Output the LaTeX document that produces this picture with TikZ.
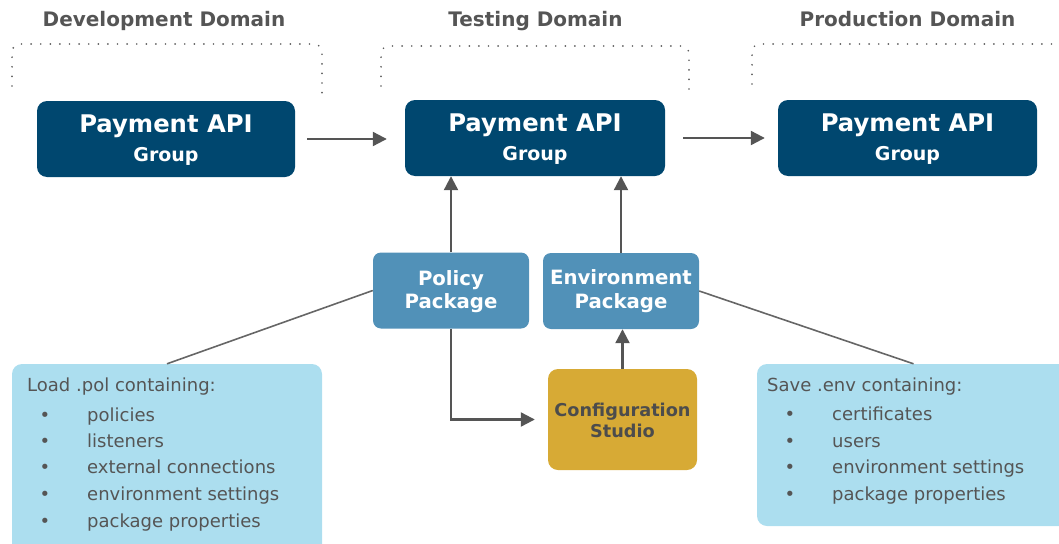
\documentclass[tikz,border=0pt]{standalone}
\usepackage{fontspec}
\setmainfont{DejaVu Sans}
\usetikzlibrary{arrows.meta,calc}
\definecolor{darkblue}{HTML}{00476F}
\definecolor{midblue}{HTML}{5191B8}
\definecolor{lightblue}{HTML}{ACDEEF}
\definecolor{goldbox}{HTML}{D7AA35}
\definecolor{txtgray}{HTML}{555555}
\definecolor{arrgray}{HTML}{555555}
\definecolor{dotgray}{HTML}{5E5E5E}
\tikzset{
  bigbox/.style={rectangle, rounded corners=10pt, fill=darkblue, draw=none, minimum width=258pt, minimum height=76pt, inner sep=0pt},
  pkgbox/.style={rectangle, rounded corners=8pt, fill=midblue, draw=none, minimum width=156pt, minimum height=76pt, inner sep=0pt},
  cfgbox/.style={rectangle, rounded corners=10pt, fill=goldbox, draw=none, minimum width=149pt, minimum height=101pt, inner sep=0pt},
  notebox/.style={rectangle, rounded corners=10pt, fill=lightblue, draw=none, inner sep=0pt},
  txt/.style={inner sep=0pt, anchor=base},
  titletxt/.style={txt, font=\bfseries\fontsize{20}{20}\selectfont, text=txtgray},
  bigtxt/.style={txt, font=\bfseries\fontsize{24.3}{24.3}\selectfont, text=white},
  subtxt/.style={txt, font=\bfseries\fontsize{19}{19}\selectfont, text=white},
  pkgtxt/.style={txt, font=\bfseries\fontsize{19.7}{19.7}\selectfont, text=white},
  cfgtxt/.style={txt, font=\bfseries\fontsize{17.7}{17.7}\selectfont, text=txtgray!90!black},
  listtxt/.style={inner sep=0pt, anchor=base west, font=\fontsize{18}{18}\selectfont, text=txtgray},
  bullettxt/.style={inner sep=0pt, anchor=base, font=\fontsize{18}{18}\selectfont, text=txtgray},
  arr/.style={draw=arrgray, line width=2.2pt, -{Triangle[length=14pt,width=14pt]}},
  thinline/.style={draw=arrgray!90, line width=1.6pt},
  dots/.style={draw=dotgray, line width=1.9pt, dash pattern=on 0pt off 9.6pt, line cap=round, rounded corners=8pt},
}
\begin{document}
\begin{tikzpicture}[x=1pt,y=-1pt]
\useasboundingbox (0,0) rectangle (1059,543);
\clip (0,0) rectangle (1059,543);

% domain titles
\node[titletxt] (tdev) at (164,27) {Development Domain};
\node[titletxt] (ttest) at (535.5,27) {Testing Domain};
\node[titletxt] (tprod) at (907.5,27) {Production Domain};

% dotted brackets
\draw[dots] (12,86) -- (12,44) -- (322,44) -- (322,94);
\draw[dots] (381,86) -- (381,46) -- (689,46) -- (689,95);
\draw[dots] (752,84) -- (752,44) -- (1066,44);

% main boxes
\node[bigbox] (dev) at (166,139) {};
\node[bigbox, minimum width=260pt] (test) at (535,138) {};
\node[bigbox, minimum width=259pt] (prod) at (907.5,138) {};

\node[bigtxt] (dev1) at (166,132) {Payment API};
\node[subtxt] (dev2) at (166,161) {Group};
\node[bigtxt] (test1) at (535,131) {Payment API};
\node[subtxt] (test2) at (535,160) {Group};
\node[bigtxt] (prod1) at (907.5,131) {Payment API};
\node[subtxt] (prod2) at (907.5,160) {Group};

% packages
\node[pkgbox] (policy) at (451,290.5) {};
\node[pkgbox] (env) at (621,291) {};
\node[pkgtxt] (pol1) at (451,285) {Policy};
\node[pkgtxt] (pol2) at (451,308) {Package};
\node[pkgtxt] (env1) at (621,284) {Environment};
\node[pkgtxt] (env2) at (621,308) {Package};

% configuration studio
\node[cfgbox] (config) at (622.5,419.5) {};
\node[cfgtxt] (cfg1) at (622.5,416) {Configuration};
\node[cfgtxt] (cfg2) at (622.5,437) {Studio};

% note boxes
\node[notebox, minimum width=310pt, minimum height=194pt] (load) at (167,461) {};
\node[notebox, minimum width=313pt, minimum height=162pt] (save) at (913.5,445) {};

\node[listtxt] (lh) at (27,391) {Load .pol containing:};
\node[bullettxt] (lb1) at (45,421) {•};
\node[bullettxt] (lb2) at (45,447) {•};
\node[bullettxt] (lb3) at (45,473.5) {•};
\node[bullettxt] (lb4) at (45,500) {•};
\node[bullettxt] (lb5) at (45,527) {•};
\node[listtxt] (li1) at (87,421) {policies};
\node[listtxt] (li2) at (87,447) {listeners};
\node[listtxt] (li3) at (87,473.5) {external connections};
\node[listtxt] (li4) at (87,500) {environment settings};
\node[listtxt] (li5) at (87,527) {package properties};

\node[listtxt] (sh) at (767,391) {Save .env containing:};
\node[bullettxt] (sb1) at (790,420) {•};
\node[bullettxt] (sb2) at (790,447) {•};
\node[bullettxt] (sb3) at (790,473.5) {•};
\node[bullettxt] (sb4) at (790,500) {•};
\node[listtxt] (si1) at (832,420) {certificates};
\node[listtxt] (si2) at (832,447) {users};
\node[listtxt] (si3) at (832,473.5) {environment settings};
\node[listtxt] (si4) at (832,500) {package properties};

% connectors
\draw[arr, shorten <=12pt, shorten >=18pt] (dev.east) -- (dev.east -| test.west);
\draw[arr, shorten <=18pt, shorten >=13pt] (test.east) -- (test.east -| prod.west);
\draw[arr] (policy.north) -- (policy.north |- test.south);
\draw[arr] (env.north) -- (env.north |- test.south);
\draw[arr] (config.north) -- (config.north |- env.south);
\draw[arr, shorten >=13pt] (policy.south) |- (config.west);
\draw[thinline] (load.north) -- (policy.west);
\draw[thinline] (env.east) -- (save.north);
\end{tikzpicture}
\end{document}
